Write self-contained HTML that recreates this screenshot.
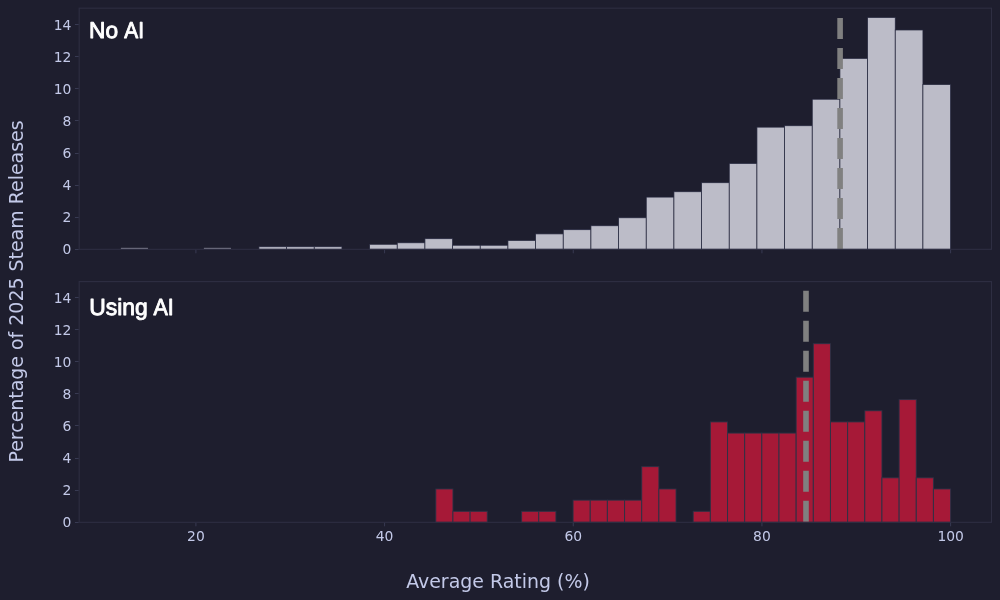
<!DOCTYPE html>
<html lang="en">
<head>
<meta charset="utf-8">
<title>Average Rating of 2025 Steam Releases</title>
<style>
html,body{margin:0;padding:0;background:#1e1e2e;}
body{width:1000px;height:600px;overflow:hidden;}
svg{display:block;}
text{font-family:"DejaVu Sans","Liberation Sans",sans-serif;fill:#c3c9e8;}
.tick{font-size:13.89px;}
.lab{font-size:18.96px;}
.ttl{font-family:"Liberation Sans","DejaVu Sans",sans-serif;font-weight:normal;font-size:22.8px;fill:#ffffff;stroke:#ffffff;stroke-width:0.9px;stroke-linejoin:round;text-rendering:geometricPrecision;}
.t2{font-size:23.2px;}
</style>
</head>
<body>
<svg width="1000" height="600" viewBox="0 0 1000 600">
<rect x="0" y="0" width="1000" height="600" fill="#1e1e2e"/>
<g fill="#bcbcc8" stroke="#24263c" stroke-opacity="0.9" stroke-width="0.8">
<rect x="120.90" y="247.85" width="27.07" height="1.0" fill="#8a8a9c" stroke="none"/>
<rect x="203.90" y="247.85" width="27.07" height="1.0" fill="#8a8a9c" stroke="none"/>
<rect x="258.93" y="246.71" width="27.67" height="2.59"/>
<rect x="286.60" y="246.71" width="27.67" height="2.59"/>
<rect x="314.27" y="246.71" width="27.67" height="2.59"/>
<rect x="369.60" y="244.30" width="27.67" height="5.00"/>
<rect x="397.27" y="242.77" width="27.67" height="6.53"/>
<rect x="424.93" y="238.68" width="27.67" height="10.62"/>
<rect x="452.60" y="245.26" width="27.67" height="4.04"/>
<rect x="480.27" y="245.26" width="27.67" height="4.04"/>
<rect x="507.93" y="240.44" width="27.67" height="8.86"/>
<rect x="535.60" y="233.89" width="27.67" height="15.41"/>
<rect x="563.27" y="229.68" width="27.67" height="19.62"/>
<rect x="590.93" y="225.73" width="27.67" height="23.57"/>
<rect x="618.60" y="217.76" width="27.67" height="31.54"/>
<rect x="646.27" y="197.10" width="27.67" height="52.20"/>
<rect x="673.93" y="191.72" width="27.67" height="57.58"/>
<rect x="701.60" y="182.70" width="27.67" height="66.60"/>
<rect x="729.27" y="163.44" width="27.67" height="85.86"/>
<rect x="756.93" y="127.15" width="27.67" height="122.15"/>
<rect x="784.60" y="125.72" width="27.67" height="123.58"/>
<rect x="812.27" y="99.23" width="27.67" height="150.07"/>
<rect x="839.93" y="58.39" width="27.67" height="190.91"/>
<rect x="867.60" y="17.46" width="27.67" height="231.84"/>
<rect x="895.27" y="29.98" width="27.67" height="219.32"/>
<rect x="922.93" y="84.55" width="27.67" height="164.75"/>
</g>
<line x1="840.10" y1="18.00" x2="840.10" y2="249.30" stroke="#808080" stroke-width="5.6" stroke-dasharray="21.1 8.9"/>
<rect x="79.15" y="8.15" width="912.35" height="241.15" fill="none" stroke="#2e2e42" stroke-width="1.1"/>
<g stroke="#383a52" stroke-width="1">
<line x1="74.95" y1="249.50" x2="78.65" y2="249.50"/>
<line x1="74.95" y1="217.50" x2="78.65" y2="217.50"/>
<line x1="74.95" y1="185.50" x2="78.65" y2="185.50"/>
<line x1="74.95" y1="153.50" x2="78.65" y2="153.50"/>
<line x1="74.95" y1="120.50" x2="78.65" y2="120.50"/>
<line x1="74.95" y1="88.50" x2="78.65" y2="88.50"/>
<line x1="74.95" y1="56.50" x2="78.65" y2="56.50"/>
<line x1="74.95" y1="24.50" x2="78.65" y2="24.50"/>
<line x1="195.90" y1="249.8" x2="195.90" y2="253.30"/>
<line x1="384.58" y1="249.8" x2="384.58" y2="253.30"/>
<line x1="573.26" y1="249.8" x2="573.26" y2="253.30"/>
<line x1="761.94" y1="249.8" x2="761.94" y2="253.30"/>
<line x1="950.62" y1="249.8" x2="950.62" y2="253.30"/>
</g>
<g class="tick" text-anchor="end">
<text x="71.35" y="254.35">0</text>
<text x="71.35" y="222.25">2</text>
<text x="71.35" y="190.15">4</text>
<text x="71.35" y="158.05">6</text>
<text x="71.35" y="125.95">8</text>
<text x="71.35" y="93.85">10</text>
<text x="71.35" y="61.75">12</text>
<text x="71.35" y="29.65">14</text>
</g>
<g fill="#a61937" stroke="#283246" stroke-opacity="0.85" stroke-width="1">
<rect x="435.80" y="488.97" width="17.16" height="33.33"/>
<rect x="452.96" y="511.32" width="17.16" height="10.98"/>
<rect x="470.12" y="511.32" width="17.16" height="10.98"/>
<rect x="521.60" y="511.32" width="17.16" height="10.98"/>
<rect x="538.76" y="511.32" width="17.16" height="10.98"/>
<rect x="573.08" y="500.15" width="17.16" height="22.15"/>
<rect x="590.24" y="500.15" width="17.16" height="22.15"/>
<rect x="607.40" y="500.15" width="17.16" height="22.15"/>
<rect x="624.56" y="500.15" width="17.16" height="22.15"/>
<rect x="641.72" y="466.61" width="17.16" height="55.69"/>
<rect x="658.88" y="488.97" width="17.16" height="33.33"/>
<rect x="693.20" y="511.32" width="17.16" height="10.98"/>
<rect x="710.36" y="421.91" width="17.16" height="100.39"/>
<rect x="727.52" y="433.08" width="17.16" height="89.22"/>
<rect x="744.68" y="433.08" width="17.16" height="89.22"/>
<rect x="761.84" y="433.08" width="17.16" height="89.22"/>
<rect x="779.00" y="433.08" width="17.16" height="89.22"/>
<rect x="796.16" y="377.20" width="17.16" height="145.10"/>
<rect x="813.32" y="343.67" width="17.16" height="178.63"/>
<rect x="830.48" y="421.91" width="17.16" height="100.39"/>
<rect x="847.64" y="421.91" width="17.16" height="100.39"/>
<rect x="864.80" y="410.73" width="17.16" height="111.57"/>
<rect x="881.96" y="477.79" width="17.16" height="44.51"/>
<rect x="899.12" y="399.55" width="17.16" height="122.75"/>
<rect x="916.28" y="477.79" width="17.16" height="44.51"/>
<rect x="933.44" y="488.97" width="17.16" height="33.33"/>
</g>
<line x1="806.00" y1="290.70" x2="806.00" y2="522.30" stroke="#808080" stroke-width="5.6" stroke-dasharray="21.1 8.9"/>
<rect x="79.15" y="281.6" width="912.35" height="240.70" fill="none" stroke="#2e2e42" stroke-width="1.1"/>
<g stroke="#383a52" stroke-width="1">
<line x1="74.95" y1="522.50" x2="78.65" y2="522.50"/>
<line x1="74.95" y1="490.50" x2="78.65" y2="490.50"/>
<line x1="74.95" y1="458.50" x2="78.65" y2="458.50"/>
<line x1="74.95" y1="425.50" x2="78.65" y2="425.50"/>
<line x1="74.95" y1="393.50" x2="78.65" y2="393.50"/>
<line x1="74.95" y1="361.50" x2="78.65" y2="361.50"/>
<line x1="74.95" y1="329.50" x2="78.65" y2="329.50"/>
<line x1="74.95" y1="297.50" x2="78.65" y2="297.50"/>
<line x1="195.90" y1="522.8" x2="195.90" y2="526.30"/>
<line x1="384.58" y1="522.8" x2="384.58" y2="526.30"/>
<line x1="573.26" y1="522.8" x2="573.26" y2="526.30"/>
<line x1="761.94" y1="522.8" x2="761.94" y2="526.30"/>
<line x1="950.62" y1="522.8" x2="950.62" y2="526.30"/>
</g>
<g class="tick" text-anchor="end">
<text x="71.35" y="527.35">0</text>
<text x="71.35" y="495.25">2</text>
<text x="71.35" y="463.15">4</text>
<text x="71.35" y="431.05">6</text>
<text x="71.35" y="398.95">8</text>
<text x="71.35" y="366.85">10</text>
<text x="71.35" y="334.75">12</text>
<text x="71.35" y="302.65">14</text>
</g>
<g class="tick" text-anchor="middle">
<text x="195.90" y="541.10">20</text>
<text x="384.58" y="541.10">40</text>
<text x="573.26" y="541.10">60</text>
<text x="761.94" y="541.10">80</text>
<text x="950.62" y="541.10">100</text>
</g>
<text class="ttl" x="89.10" y="38" textLength="29.05" lengthAdjust="spacingAndGlyphs">No</text>
<text class="ttl" x="124.30" y="38" textLength="19.70" lengthAdjust="spacingAndGlyphs">AI</text>
<text class="ttl t2" x="89.30" y="315" textLength="58.55" lengthAdjust="spacingAndGlyphs">Using</text>
<text class="ttl t2" x="153.40" y="315" textLength="20.25" lengthAdjust="spacingAndGlyphs">AI</text>
<text class="lab" x="498" y="587.5" text-anchor="middle">Average Rating (%)</text>
<text class="lab" transform="translate(22.8 291.5) rotate(-90)" text-anchor="middle">Percentage of 2025 Steam Releases</text>
</svg>
</body>
</html>
